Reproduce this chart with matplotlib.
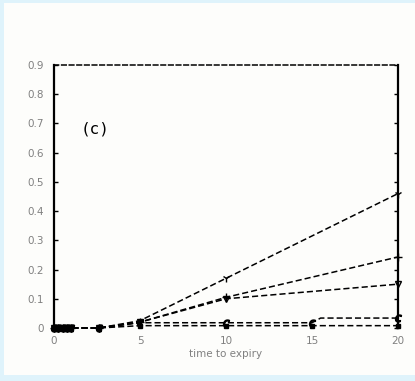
import matplotlib
matplotlib.use("Agg")
import matplotlib.pyplot as plt
from matplotlib.patches import Rectangle

# time to expiry grid and the five curves
t_main = [0, 0.25, 0.5, 0.75, 1, 2.6, 5, 10, 20]
curve_a = [0, 0, 0, 0, 0, 0, 0.025, 0.17, 0.46]
curve_b = [0, 0, 0, 0, 0, 0, 0.02, 0.105, 0.243]
curve_c = [0, 0, 0, 0, 0, 0, 0.02, 0.10, 0.15]
t_d = [0, 0.25, 0.5, 0.75, 1, 2.6, 5, 10, 15, 15.5, 20]
curve_d = [0, 0, 0, 0, 0, 0, 0.018, 0.018, 0.018, 0.034, 0.034]
curve_e = [0, 0, 0, 0, 0, 0, 0.008, 0.008, 0.008, 0.008, 0.008]

x_ticks = [0, 5, 10, 15, 20]
y_ticks = [0, 0.1, 0.2, 0.3, 0.4, 0.5, 0.6, 0.7, 0.8, 0.9]
y_labels = ["0", "0.1", "0.2", "0.3", "0.4", "0.5", "0.6", "0.7", "0.8", "0.9"]

fig = plt.figure(figsize=(4.15, 3.81), dpi=100)
fig.patch.set_facecolor("#dff3fb")
fig.patches.append(Rectangle((4 / 415, 6 / 381), 411 / 415, 372 / 381,
                             transform=fig.transFigure, facecolor="#fdfdfb",
                             edgecolor="none", zorder=-5))

ax = fig.add_axes([54 / 415, 53 / 381, 344 / 415, 263 / 381])
ax.set_zorder(2)
ax.set_facecolor("#fdfdfb")

dash = (0, (4, 2))
ax.plot(t_main, curve_a, color="black", ls=dash, lw=1.1,
        marker="1", ms=6, mew=1, clip_on=False)
ax.plot(t_main, curve_b, color="black", ls=dash, lw=1.1,
        marker="+", ms=6, mew=1, clip_on=False)
ax.plot(t_main, curve_c, color="black", ls=dash, lw=1.1,
        marker="v", ms=4, mfc="none", mew=1, clip_on=False)
ax.plot(t_d, curve_d, color="black", ls=dash, lw=1.1,
        marker="$c$", ms=5, clip_on=False, markevery=[0, 1, 2, 3, 4, 5, 6, 7, 8, 10])
ax.plot(t_d, curve_e, color="black", ls=dash, lw=1.1,
        marker="s", ms=3.5, clip_on=False, markevery=[0, 1, 2, 3, 4, 5, 6, 7, 8, 10])

ax.set_xlim(0, 20)
ax.set_ylim(0, 0.9)

for side in ["left", "right"]:
    ax.spines[side].set_linewidth(1.6)
ax.spines["top"].set_linestyle((0, (3, 2)))
ax.spines["top"].set_linewidth(1.1)
ax.spines["bottom"].set_visible(False)

ax.set_xticks(x_ticks)
ax.set_xticklabels([str(v) for v in x_ticks])
ax.set_yticks(y_ticks)
ax.set_yticklabels(y_labels)
ax.tick_params(axis="x", length=0, labelsize=7.5, labelcolor="#808080", pad=6)
ax.tick_params(axis="y", direction="in", length=3, width=1, right=True,
               labelsize=7.5, labelcolor="#808080", pad=7)

ax.set_xlabel("time to expiry", fontsize=7.5, color="#808080", labelpad=2)
ax.text(2.4, 0.68, "(c)", fontsize=11.5, family="DejaVu Sans Mono",
        ha="center", va="center")

fig.savefig("out.png", dpi=100, facecolor=fig.get_facecolor())
